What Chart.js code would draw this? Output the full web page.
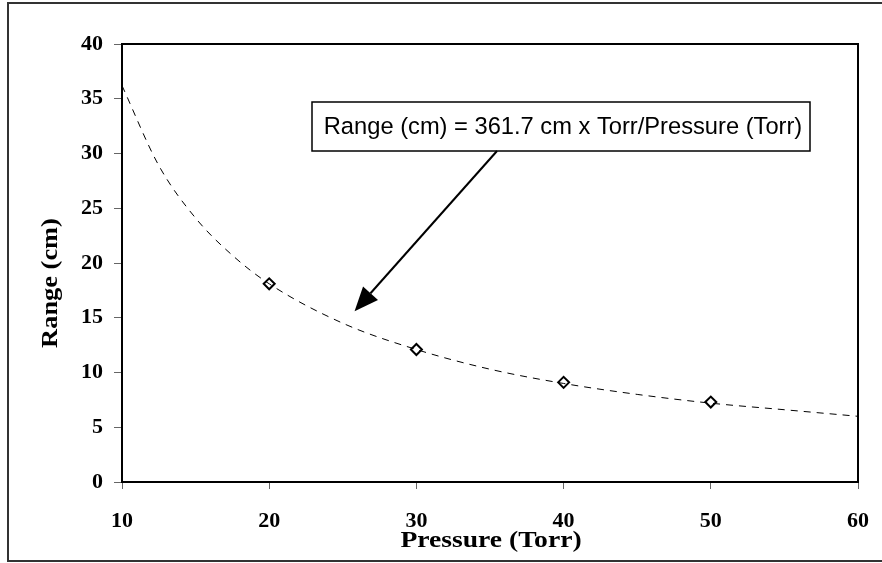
<!DOCTYPE html>
<html>
<head>
<meta charset="utf-8">
<title>Range vs Pressure</title>
<script src="https://cdn.jsdelivr.net/npm/chart.js@4.4.1/dist/chart.umd.min.js"></script>
<style>
  body { margin: 0; background: #fff; }
  canvas { display: block; }
</style>
</head>
<body>
<canvas id="rangeChart" width="882" height="563"></canvas>
<script>
// measured points
const pressure = [20, 30, 40, 50];
const range = [18.1, 12.1, 9.1, 7.3];

// dashed fit curve
const fitPressure = [10, 12.5, 15, 17.5, 20, 25, 30, 35, 40, 45, 50, 55, 60];
const fitRange = [36.2, 28.9, 24.1, 20.7, 18.1, 14.5, 12.1, 10.3, 9.0, 8.0, 7.2, 6.6, 6.0];

// tick labels
const xTicks = [10, 20, 30, 40, 50, 60];
const yTicks = [0, 5, 10, 15, 20, 25, 30, 35, 40];

const xTitle = 'Pressure (Torr)';
const yTitle = 'Range (cm)';
const noteText = 'Range (cm) = 361.7 cm x Torr/Pressure (Torr)';
const noteTip = { x: 25.8, y: 15.6 }; // where the arrow points

const serifBold = { family: '"Liberation Serif", "Times New Roman", serif', weight: 'bold', size: 22 };

// frame, plot border, axis titles and the note box
const decorPlugin = {
  id: 'decor',
  beforeDraw(chart) {
    const ctx = chart.ctx;
    ctx.save();
    ctx.fillStyle = '#fff';
    ctx.fillRect(0, 0, chart.width, chart.height);
    ctx.strokeStyle = '#333';
    ctx.lineWidth = 2;
    ctx.strokeRect(8, 3, 885, 558);
    ctx.restore();
  },
  afterDraw(chart) {
    const ctx = chart.ctx;
    const a = chart.chartArea;
    const xs = chart.scales.x, ys = chart.scales.y;
    ctx.save();

    // plot border
    ctx.strokeStyle = '#000';
    ctx.lineWidth = 2;
    ctx.strokeRect(a.left, a.top, a.right - a.left, a.bottom - a.top);

    // axis titles (slightly stretched, like the original)
    ctx.fillStyle = '#000';
    ctx.font = 'bold 24px "Liberation Serif", "Times New Roman", serif';
    ctx.textAlign = 'center';
    ctx.textBaseline = 'middle';
    ctx.save();
    ctx.translate(491, 541);
    ctx.scale(1.15, 1);
    ctx.fillText(xTitle, 0, 0);
    ctx.restore();
    ctx.save();
    ctx.translate(51, 283);
    ctx.rotate(-Math.PI / 2);
    ctx.scale(1.1, 1);
    ctx.fillText(yTitle, 0, 0);
    ctx.restore();

    // note box
    const bx = 312, by = 102, bw = 498, bh = 49;
    ctx.fillStyle = '#fff';
    ctx.fillRect(bx, by, bw, bh);
    ctx.strokeStyle = '#000';
    ctx.lineWidth = 1.5;
    ctx.strokeRect(bx, by, bw, bh);
    ctx.fillStyle = '#000';
    ctx.font = '23.7px "Liberation Sans", Arial, sans-serif';
    ctx.fillText(noteText, bx + bw / 2 + 2, by + bh / 2 + 1);

    // arrow
    const sx = 497, sy = by + bh;
    const tx = xs.getPixelForValue(noteTip.x);
    const ty = ys.getPixelForValue(noteTip.y);
    const ang = Math.atan2(ty - sy, tx - sx);
    const headLen = 24, headW = 10;
    const baseX = tx - headLen * Math.cos(ang);
    const baseY = ty - headLen * Math.sin(ang);
    ctx.lineWidth = 2;
    ctx.beginPath();
    ctx.moveTo(sx, sy);
    ctx.lineTo(baseX, baseY);
    ctx.stroke();
    ctx.beginPath();
    ctx.moveTo(tx, ty);
    ctx.lineTo(baseX + headW * Math.sin(ang), baseY - headW * Math.cos(ang));
    ctx.lineTo(baseX - headW * Math.sin(ang), baseY + headW * Math.cos(ang));
    ctx.closePath();
    ctx.fill();

    ctx.restore();
  }
};

const ctx = document.getElementById('rangeChart').getContext('2d');
const rangeChart = new Chart(ctx, {
  type: 'scatter',
  data: {
    datasets: [{
      label: 'Fit',
      data: fitPressure.map((p, i) => ({ x: p, y: fitRange[i] })),
      showLine: true,
      borderColor: '#000',
      borderWidth: 1,
      borderDash: [7, 6],
      cubicInterpolationMode: 'monotone',
      pointRadius: 0,
      fill: false
    }, {
      label: 'Range',
      data: pressure.map((p, i) => ({ x: p, y: range[i] })),
      pointStyle: 'rectRot',
      pointRadius: 5.5,
      pointBorderWidth: 2,
      pointBorderColor: '#000',
      pointBackgroundColor: '#fff',
      showLine: false
    }]
  },
  options: {
    responsive: false,
    animation: false,
    devicePixelRatio: 1,
    layout: { padding: { top: 44, right: 24, left: 0, bottom: 0 } },
    plugins: {
      legend: { display: false },
      tooltip: { enabled: false }
    },
    scales: {
      x: {
        type: 'linear',
        min: 10,
        max: 60,
        afterBuildTicks: s => { s.ticks = xTicks.map(v => ({ value: v })); },
        afterFit: s => { s.height = 81; s.paddingLeft = 0; s.paddingRight = 0; },
        grid: { drawOnChartArea: false, drawTicks: true, tickLength: 7, tickColor: '#666' },
        border: { display: true, color: '#000', width: 2 },
        ticks: { color: '#000', font: serifBold, padding: 19, maxRotation: 0 }
      },
      y: {
        min: 0,
        max: 40,
        afterBuildTicks: s => { s.ticks = yTicks.map(v => ({ value: v })); },
        afterFit: s => { s.width = 122; s.paddingTop = 0; s.paddingBottom = 0; },
        grid: { drawOnChartArea: false, drawTicks: true, tickLength: 8, tickColor: '#666' },
        border: { display: true, color: '#000', width: 2 },
        ticks: { color: '#000', font: serifBold, padding: 11 }
      }
    }
  },
  plugins: [decorPlugin]
});
</script>
</body>
</html>
